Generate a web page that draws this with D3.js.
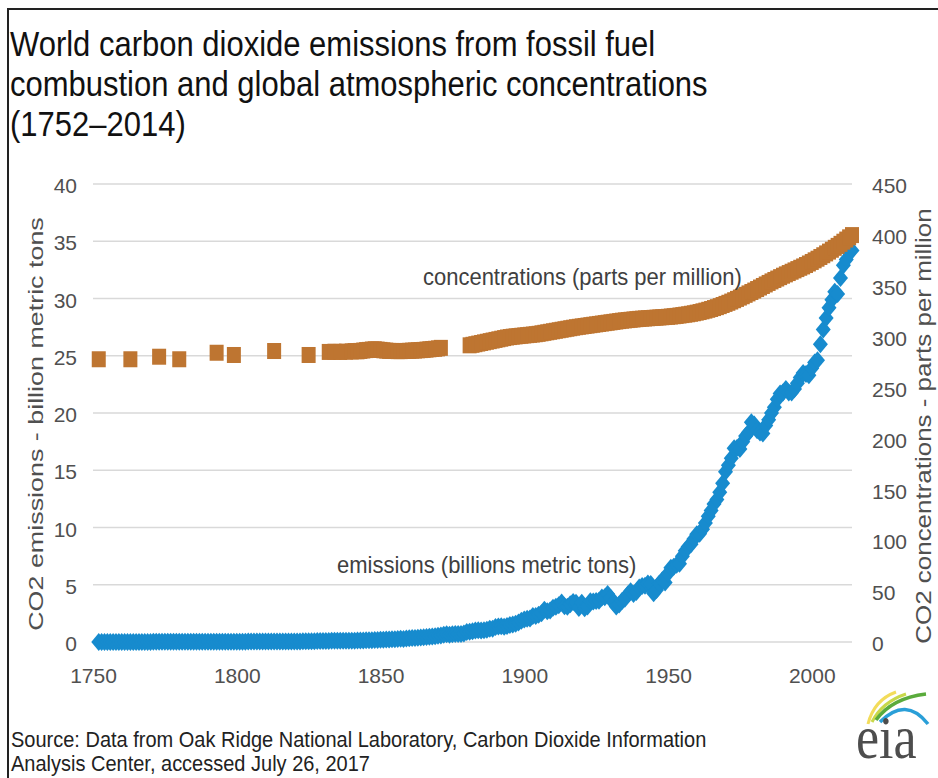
<!DOCTYPE html>
<html><head><meta charset="utf-8">
<script src="https://cdn.jsdelivr.net/npm/d3@7"></script>
<style>body{margin:0;background:#fff}svg{display:block;font-family:"Liberation Sans",Arial,sans-serif}</style>
</head><body><script>
// ---------- DATA ----------
const titleLines = ["World carbon dioxide emissions from fossil fuel","combustion and global atmospheric concentrations","(1752\u20132014)"];
const sourceLines = ["Source: Data from Oak Ridge National Laboratory, Carbon Dioxide Information","Analysis Center, accessed July 26, 2017"];
const leftTicks = [0,5,10,15,20,25,30,35,40];
const rightTicks = [0,50,100,150,200,250,300,350,400,450];
const xTicks = [1750,1800,1850,1900,1950,2000];
const leftTitle = "CO2 emissions - billion metric tons";
const rightTitle = "CO2 concentrations - parts per million";
const emissionsLabel = "emissions (billions metric tons)";
const concLabel = "concentrations (parts per million)";

// emissions, billion metric tons CO2, one value per year starting 1752
const emissionsStartYear = 1752;
const emissions = [
0.01,0.01,0.01,0.01,0.01,0.01,0.01,0.01,0.01,
0.01,0.01,0.01,0.01,0.01,0.01,0.01,0.01,0.01,0.01,
0.02,0.02,0.02,0.02,0.02,0.02,0.02,0.02,0.02,0.02,
0.02,0.02,0.02,0.02,0.02,0.02,0.02,0.02,0.03,0.03,
0.03,0.03,0.03,0.03,0.03,0.03,0.03,0.03,0.03,0.03,
0.03,0.03,0.03,0.04,0.04,0.04,0.04,0.04,0.04,0.04,
0.04,0.04,0.04,0.04,0.05,0.05,0.05,0.05,0.05,0.05,
0.05,0.05,0.06,0.06,0.06,0.07,0.07,0.08,0.08,0.09,
0.09,0.09,0.10,0.10,0.10,0.11,0.11,0.12,0.12,0.12,
0.12,0.13,0.13,0.14,0.15,0.15,0.16,0.17,0.18,0.20,
0.20,0.21,0.22,0.24,0.24,0.27,0.28,0.27,0.30,0.33,
0.34,0.34,0.37,0.39,0.42,0.43,0.46,0.47,0.50,0.54,
0.57,0.63,0.67,0.63,0.68,0.69,0.70,0.70,0.75,0.87,
0.89,0.94,1.01,1.03,1.01,1.03,1.08,1.16,1.15,1.31,
1.36,1.37,1.33,1.39,1.49,1.53,1.60,1.70,1.85,1.96,
2.02,2.06,2.27,2.27,2.38,2.51,2.82,2.69,2.76,3.00,
3.07,3.22,3.46,3.12,3.07,3.30,3.50,3.43,2.96,3.42,
2.94,3.10,3.56,3.53,3.58,3.60,3.89,3.91,4.20,3.86,
3.45,3.11,3.27,3.57,3.77,4.14,4.43,4.19,4.37,4.76,
4.89,4.92,5.10,5.07,4.25,4.54,5.10,5.39,5.20,5.98,
6.48,6.58,6.75,6.84,7.49,7.98,8.32,8.54,9.00,9.42,
9.46,9.85,10.39,10.98,11.48,12.06,12.44,13.08,13.86,14.86,
15.43,16.05,16.92,16.95,16.85,17.50,18.00,18.30,19.20,19.00,
18.50,18.30,18.20,18.90,19.40,20.00,20.50,21.20,21.70,21.80,
22.10,21.80,21.80,22.10,22.60,23.10,23.50,23.40,23.30,23.90,
24.40,24.60,26.00,27.30,28.30,29.20,29.90,30.60,30.40,31.80,
32.90,33.40,34.00,34.20];

// concentrations, ppm
const concYears = [1752,1763,1773,1780,1793,1799,1813,1825,1832,1834,1836,1838,
1840,1841,1842,1843,1844,1845,1846,1847,1848,1849,1850,1851,1852,1853,1854,1855,1856,1857,1858,1859,
1860,1861,1862,1863,1864,1865,1866,1867,1868,1869,1870,1871,
1881,1882,1883,1884,1885,1886,1887,1888,1889,1890,1891,1892,1893,1894,1895,1896,1897,1898,1899,1900,
1901,1902,1903,1904,1905,1906,1907,1908,1909,1910,1911,1912,1913,1914,1915,1916,1917,1918,1919,1920,
1921,1922,1923,1924,1925,1926,1927,1928,1929,1930,1931,1932,1933,1934,1935,1936,1937,1938,1939,1940,
1941,1942,1943,1944,1945,1946,1947,1948,1949,1950,1951,1952,1953,1954,1955,1956,1957,1958,1959,1960,
1961,1962,1963,1964,1965,1966,1967,1968,1969,1970,1971,1972,1973,1974,1975,1976,1977,1978,1979,1980,
1981,1982,1983,1984,1985,1986,1987,1988,1989,1990,1991,1992,1993,1994,1995,1996,1997,1998,1999,2000,
2001,2002,2003,2004,2005,2006,2007,2008,2009,2010,2011,2012,2013,2014];
const concValues = [277.8,277.8,280.3,277.8,284.2,282.0,285.9,282.0,285.0,285.2,285.0,285.3,
285.5,285.8,285.6,286.0,286.4,286.8,287.0,287.4,287.6,287.3,287.0,286.6,286.3,286.0,286.0,285.9,285.8,285.8,285.9,286.0,
286.1,286.3,286.4,286.6,286.8,287.0,287.3,287.6,287.9,288.1,288.5,289.0,
291.5,292.0,292.6,293.2,293.8,294.4,295.0,295.6,296.2,296.8,297.4,298.0,298.6,299.2,299.6,300.0,300.3,300.6,300.9,301.2,
301.5,301.8,302.1,302.4,302.8,303.3,303.8,304.3,304.8,305.3,305.8,306.3,306.8,307.3,307.8,308.3,308.8,309.3,309.7,310.1,
310.5,310.9,311.3,311.7,312.1,312.5,312.9,313.3,313.7,314.1,314.5,314.9,315.3,315.7,316.0,316.3,316.6,316.9,317.2,317.5,
317.7,317.9,318.1,318.3,318.5,318.7,318.9,319.1,319.3,319.5,319.8,320.1,320.4,320.8,321.2,321.6,322.0,322.5,323.0,323.6,
324.2,324.9,325.6,326.4,327.2,328.1,329.0,330.0,331.1,332.2,333.3,334.5,335.8,337.1,338.4,339.7,341.1,342.5,343.9,345.3,
346.8,348.3,349.8,351.3,352.8,354.3,355.7,357.1,358.5,359.9,361.2,362.5,363.8,365.1,366.4,367.7,369.0,370.4,371.9,373.4,
375.0,376.6,378.3,380.0,381.8,383.6,385.4,387.3,389.2,391.2,393.3,395.4,397.6,399.8];

// ---------- CHART ----------
const W = 938, H = 778;
const FONT = '"Liberation Sans", Arial, sans-serif';
const svg = d3.select("body").append("svg").attr("width", W).attr("height", H);

const x = d3.scaleLinear().domain([1750, 2014]).range([93, 852]);
const yL = d3.scaleLinear().domain([0, 40]).range([642, 184]);
const yR = d3.scaleLinear().domain([0, 450]).range([642, 184]);

// border
svg.append("path").attr("d", `M8,${H} L8,9 L${W},9`).attr("fill", "none").attr("stroke", "#222").attr("stroke-width", 2);

// title
svg.append("g").selectAll("text").data(titleLines).join("text")
  .attr("transform", (d, i) => `translate(10,${56 + i * 40}) scale(1,1.15)`)
  .attr("font-size", 31).attr("fill", "#111").text(d => d);

// gridlines
svg.append("g").selectAll("line").data(leftTicks).join("line")
  .attr("x1", x.range()[0]).attr("x2", x.range()[1])
  .attr("y1", d => yL(d)).attr("y2", d => yL(d))
  .attr("stroke", "#d9d9d9").attr("stroke-width", 1.3);

function styleAxis(g) {
  g.select(".domain").remove();
  g.selectAll("text").attr("font-size", 21).attr("fill", "#505050").attr("font-family", FONT);
}
svg.append("g").attr("transform", "translate(93,2)")
  .call(d3.axisLeft(yL).tickValues(leftTicks).tickSize(0).tickPadding(16)).call(styleAxis);
svg.append("g").attr("transform", "translate(852,2)")
  .call(d3.axisRight(yR).tickValues(rightTicks).tickSize(0).tickPadding(20)).call(styleAxis);
svg.append("g").attr("transform", "translate(0,642)")
  .call(d3.axisBottom(x).tickValues(xTicks).tickFormat(d3.format("d")).tickSize(0).tickPadding(26)).call(styleAxis);

// axis titles
svg.append("text").attr("transform", "translate(43,424) rotate(-90) scale(1.28,1)")
  .attr("text-anchor", "middle").attr("font-size", 21).attr("fill", "#505050").text(leftTitle);
svg.append("text").attr("transform", "translate(931,426) rotate(-90) scale(1.18,1)")
  .attr("text-anchor", "middle").attr("font-size", 22).attr("fill", "#505050").text(rightTitle);

// emissions (diamonds)
const emData = emissions.map((v, i) => ({ year: emissionsStartYear + i, v }));
svg.append("g").selectAll("path").data(emData).join("path")
  .attr("d", "M0,-9L7.5,0L0,9L-7.5,0Z")
  .attr("transform", d => `translate(${x(d.year)},${yL(d.v)})`)
  .attr("fill", "#178BCE");

// concentrations (squares)
const concData = concYears.map((yr, i) => ({ year: yr, v: concValues[i] }));
svg.append("g").selectAll("rect").data(concData).join("rect")
  .attr("x", d => x(d.year) - 7).attr("y", d => yR(d.v) - 8)
  .attr("width", 14).attr("height", 16)
  .attr("fill", "#BE7531");

// series labels
svg.append("text").attr("transform", "translate(423,285) scale(1,1.08)")
  .attr("font-size", 22).attr("fill", "#404040").text(concLabel);
svg.append("text").attr("transform", "translate(337,573) scale(1,1.08)")
  .attr("font-size", 22).attr("fill", "#404040").text(emissionsLabel);

// source
svg.append("g").selectAll("text").data(sourceLines).join("text")
  .attr("transform", (d, i) => `translate(11,${747 + i * 24}) scale(1,1.1)`)
  .attr("font-size", 20).attr("fill", "#222").text(d => d);

// eia logo
const logo = svg.append("g");
logo.append("path").attr("d", "M868,724 Q874,700 896,692").attr("fill", "none").attr("stroke", "#f3dc5a").attr("stroke-width", 3);
logo.append("path").attr("d", "M872,722 Q882,702 906,694").attr("fill", "none").attr("stroke", "#c8d84a").attr("stroke-width", 3);
logo.append("path").attr("d", "M876,720 Q892,698 926,694").attr("fill", "none").attr("stroke", "#5aab3c").attr("stroke-width", 3.5);
logo.append("path").attr("d", "M880,722 Q906,696 928,724").attr("fill", "none").attr("stroke", "#2a9fd8").attr("stroke-width", 3.5);
logo.append("text").attr("transform", "translate(856,758) scale(1,1.17)")
  .attr("font-family", '"Liberation Serif", "Times New Roman", serif')
  .attr("font-size", 52).attr("fill", "#4d4d4d").text("eia");
</script></body></html>
